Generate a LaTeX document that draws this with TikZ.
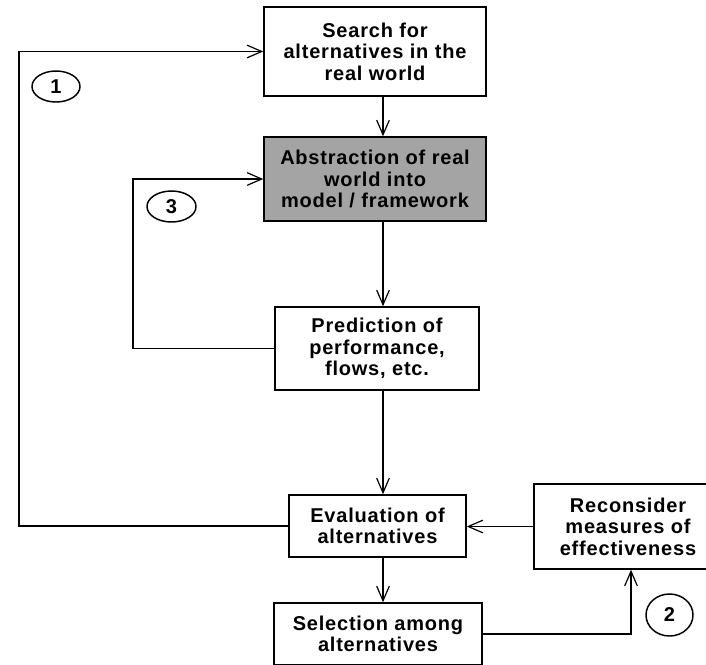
\documentclass[tikz,border=0pt]{standalone}
\usepackage{fontspec}
\setmainfont{Liberation Sans}[LetterSpace=4]
\usetikzlibrary{arrows.meta,shapes.geometric}
\definecolor{boxgray}{RGB}{164,164,164}
\tikzset{
  box/.style={draw=black, line width=1.1pt, fill=white, align=center, inner sep=0pt,
    font=\fontsize{15}{16.1}\selectfont\bfseries},
  conn/.style={line width=1.1pt, draw=black},
  arr/.style={conn, -{Straight Barb[length=11pt,width=9.5pt,line width=0.9pt]}},
  num/.style={draw=black, line width=1.1pt, ellipse, inner sep=0pt,
    font=\fontsize{15}{16.1}\selectfont\bfseries}
}
\begin{document}
\begin{tikzpicture}[x=0.75pt,y=-0.75pt]
\useasboundingbox (0,0) rectangle (706,664);
\fill[white] (0,0) rectangle (706,664);
\clip (0,0) rectangle (706,664);
\coordinate (col) at (383,0);
\coordinate (l1) at (19,0);
\coordinate (l3) at (133,0);
\coordinate (c2) at (631,0);
\node[box, minimum width=222*0.75pt, minimum height=89*0.75pt] (search) at (375,51.5)
  {Search for\\alternatives in the\\real world};
\node[box, fill=boxgray, minimum width=222*0.75pt, minimum height=84*0.75pt] (abs) at (375,179)
  {Abstraction of real\\world into\\model / framework};
\node[box, minimum width=204*0.75pt, minimum height=83*0.75pt] (pred) at (377,348.5)
  {Prediction of\\performance,\\flows, etc.};
\node[box, minimum width=177*0.75pt, minimum height=62*0.75pt] (eval) at (377.5,526)
  {Evaluation of\\alternatives};
\node[box, minimum width=208*0.75pt, minimum height=62*0.75pt] (sel) at (378,634)
  {Selection among\\alternatives};
\node[box, minimum width=188*0.75pt, minimum height=85*0.75pt] (recon) at (628,526.5)
  {Reconsider\\measures of\\effectiveness};
\node[num, minimum width=48*0.75pt, minimum height=31*0.75pt] (n1) at (56,86.5) {1};
\node[num, minimum width=49*0.75pt, minimum height=31*0.75pt] (n3) at (171.5,206.5) {3};
\node[num, minimum width=47*0.75pt, minimum height=42*0.75pt] (n2) at (669.5,615) {2};
\draw[arr] (search.south -| col) -- (abs.north -| col);
\draw[arr] (abs.south -| col) -- (pred.north -| col);
\draw[arr] (pred.south -| col) -- (eval.north -| col);
\draw[arr] (eval.south -| col) -- (sel.north -| col);
\draw[arr] (eval.west) -- (eval.west -| l1) |- (search.west);
\draw[arr] (pred.west) -- (pred.west -| l3) |- (abs.west);
\draw[arr] (recon.west) -- (recon.west -| eval.east);
\draw[arr] (sel.east) -| (recon.south -| c2);
\end{tikzpicture}
\end{document}
